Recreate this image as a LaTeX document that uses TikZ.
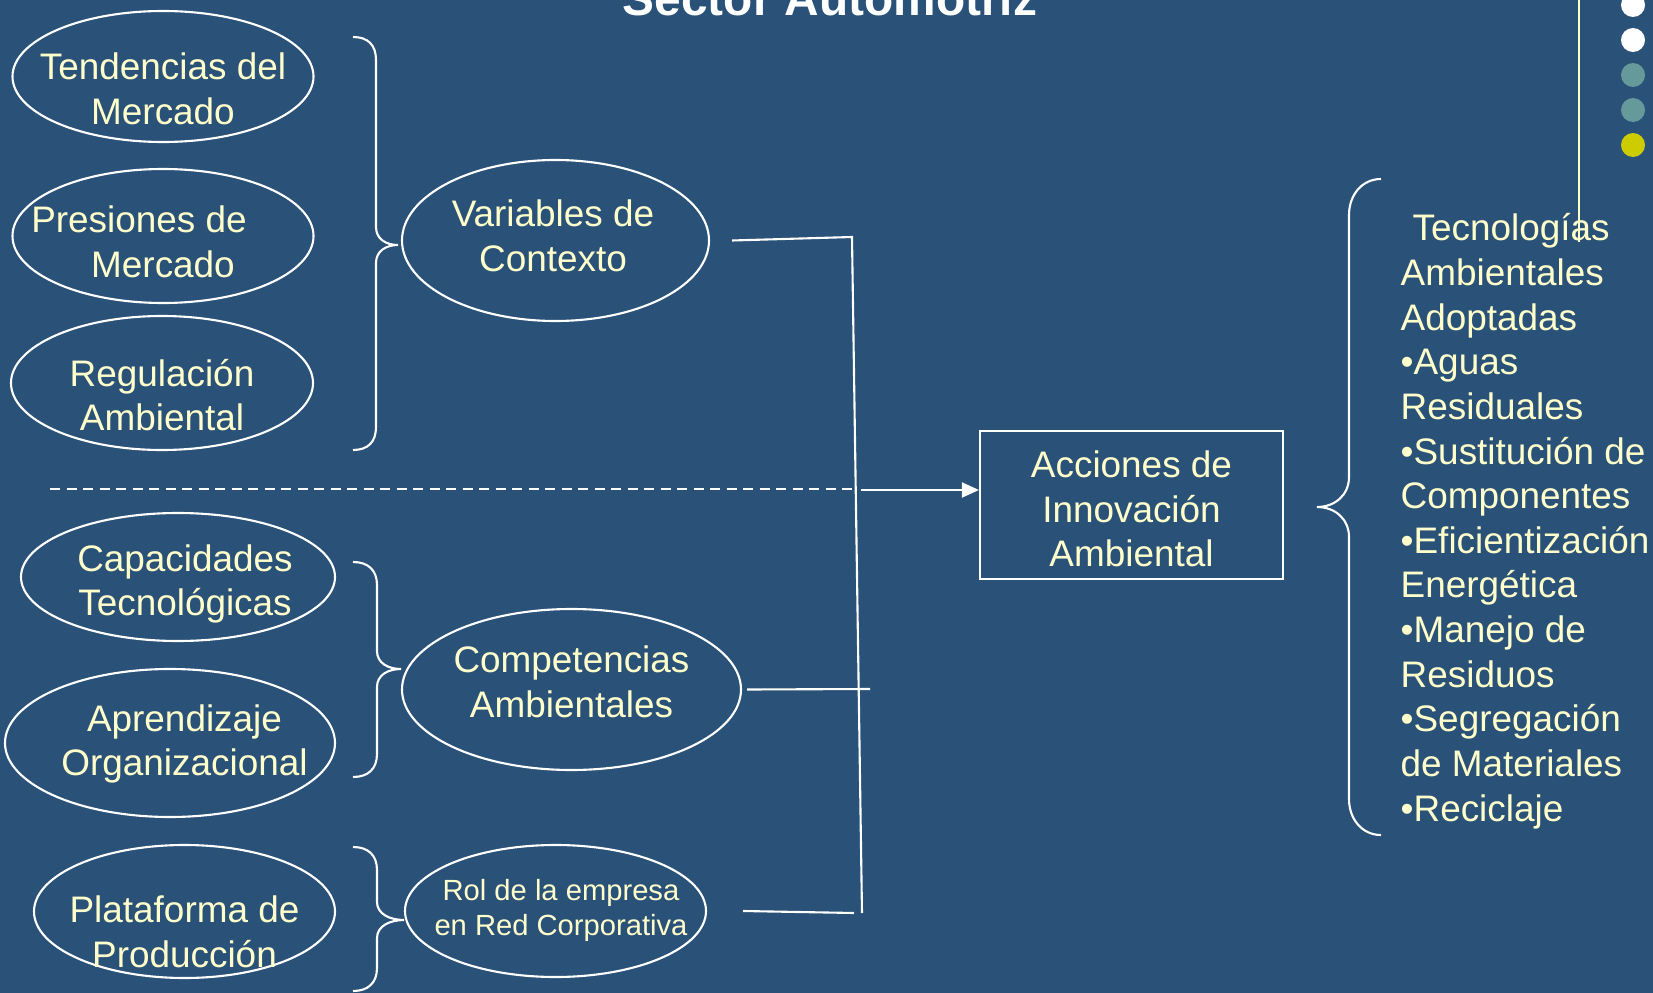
\documentclass[tikz,border=0pt]{standalone}
\usepackage{fontspec}
\setmainfont{Liberation Sans}
\usetikzlibrary{shapes.geometric,arrows.meta}
\definecolor{slidebg}{HTML}{2A5279}
\definecolor{paleyellow}{HTML}{FFFFCC}
\definecolor{dotteal}{HTML}{669999}
\definecolor{dotyellow}{HTML}{CCCC00}
\begin{document}
\begin{tikzpicture}[x=1cm, y=-1cm,
    oval/.style={draw=white, line width=0.6pt, ellipse, inner sep=0pt},
    txt/.style={text=paleyellow, align=center, inner sep=0pt, font=\fontsize{10.5}{12.7}\selectfont},
    link/.style={draw=white, line width=0.6pt}]

    % Slide background
    \useasboundingbox (0,0) rectangle (16.53,9.93);
    \clip (0,0) rectangle (16.53,9.93);
    \fill[slidebg] (0,0) rectangle (16.53,9.93);

    % Title (cut at the top of the slide)
    \node[anchor=base, text=white, inner sep=0pt, font=\fontsize{13.6}{16}\selectfont\bfseries] (title) at (8.30,0.15) {Sector Automotriz};

    % Decoration at the top right
    \draw[paleyellow, line width=0.5pt] (15.79,0) -- (15.79,2.42);
    \fill[white] (16.33,0.05) circle (0.12);
    \fill[white] (16.33,0.40) circle (0.12);
    \fill[dotteal] (16.33,0.75) circle (0.12);
    \fill[dotteal] (16.33,1.10) circle (0.12);
    \fill[dotyellow] (16.33,1.45) circle (0.12);

    % Ellipses of the left column
    \node[oval, minimum width=3.01cm, minimum height=1.31cm] (tend) at (1.63,0.765) {};
    \node[oval, minimum width=3.01cm, minimum height=1.34cm] (pres) at (1.63,2.36) {};
    \node[oval, minimum width=3.02cm, minimum height=1.34cm] (regu) at (1.62,3.83) {};
    \node[oval, minimum width=3.14cm, minimum height=1.28cm] (capa) at (1.78,5.77) {};
    \node[oval, minimum width=3.30cm, minimum height=1.48cm] (apre) at (1.70,7.43) {};
    \node[oval, minimum width=3.01cm, minimum height=1.33cm] (plat) at (1.845,9.115) {};

    % Texts of the left column
    \node[txt] (tend-t) at (1.63,0.885) {Tendencias del\\Mercado};
    \node[txt] (pres-t) at (1.63,2.42) {Presiones de\hspace*{0.48cm}\\Mercado};
    \node[txt] (regu-t) at (1.62,3.95) {Regulación\\Ambiental};
    \node[txt] (capa-t) at (1.85,5.84) {Capacidades\\Tecnológicas};
    \node[txt] (apre-t) at (1.845,7.44) {Aprendizaje\\Organizacional};
    \node[txt] (plat-t) at (1.845,9.315) {Plataforma de\\Producción};

    % Ellipses of the middle column
    \node[oval, minimum width=3.07cm, minimum height=1.61cm] (vari) at (5.555,2.405) {};
    \node[oval, minimum width=3.39cm, minimum height=1.61cm] (comp) at (5.715,6.895) {};
    \node[oval, minimum width=3.01cm, minimum height=1.32cm] (rol) at (5.555,9.11) {};
    \node[txt] (vari-t) at (5.53,2.355) {Variables de\\Contexto};
    \node[txt] (comp-t) at (5.715,6.815) {Competencias\\Ambientales};
    \node[txt, font=\fontsize{8.3}{9.9}\selectfont] (rol-t) at (5.61,9.105) {Rol de la empresa\\en Red Corporativa};

    % Result box
    \node[draw=white, line width=0.6pt, minimum width=3.03cm, minimum height=1.48cm, inner sep=0pt] (box) at (11.315,5.05) {};
    \node[txt] (box-t) at (11.315,5.09) {Acciones de\\Innovación\\Ambiental};

    % Braces
    \draw[link] (3.53,0.37) .. controls (3.68,0.37) and (3.76,0.45) .. (3.76,0.60) -- (3.76,2.27)
        .. controls (3.76,2.39) and (3.86,2.45) .. (3.98,2.45) .. controls (3.86,2.45) and (3.76,2.51) .. (3.76,2.63)
        -- (3.76,4.27) .. controls (3.76,4.42) and (3.68,4.50) .. (3.53,4.50);
    \draw[link] (3.53,5.62) .. controls (3.68,5.62) and (3.77,5.70) .. (3.77,5.85) -- (3.77,6.51)
        .. controls (3.77,6.63) and (3.88,6.69) .. (4.01,6.69) .. controls (3.88,6.69) and (3.77,6.75) .. (3.77,6.87)
        -- (3.77,7.54) .. controls (3.77,7.69) and (3.68,7.77) .. (3.53,7.77);
    \draw[link] (3.53,8.47) .. controls (3.68,8.47) and (3.77,8.55) .. (3.77,8.70) -- (3.77,9.02)
        .. controls (3.77,9.14) and (3.90,9.20) .. (4.04,9.20) .. controls (3.90,9.20) and (3.77,9.26) .. (3.77,9.38)
        -- (3.77,9.68) .. controls (3.77,9.83) and (3.68,9.91) .. (3.53,9.91);
    \draw[link] (13.81,1.79) .. controls (13.62,1.79) and (13.49,1.95) .. (13.49,2.15) -- (13.49,4.77)
        .. controls (13.49,4.95) and (13.35,5.07) .. (13.17,5.07) .. controls (13.35,5.07) and (13.49,5.19) .. (13.49,5.37)
        -- (13.49,7.99) .. controls (13.49,8.19) and (13.62,8.35) .. (13.81,8.35);

    % Connectors to the trunk line
    \coordinate (top) at (8.52,2.37);
    \coordinate (bottom) at (8.62,9.13);
    \coordinate (mid) at (8.70,6.89);
    \coordinate (low) at (8.54,9.13);
    \draw[link] ([xshift=0.22cm]vari.east) -- (top) -- (bottom);
    \draw[link] ([xshift=0.05cm]comp.east) -- (mid);
    \draw[link] ([xshift=0.36cm]rol.east) -- (low);

    % Dashed separator and arrow to the box
    \coordinate (dash-a) at (0.50,4.89);
    \coordinate (dash-b) at (8.56,4.89);
    \coordinate (arrow-a) at (8.61,4.90);
    \draw[link, dash pattern=on 0.10cm off 0.065cm] (dash-a) -- (dash-b);
    \draw[link, -{Triangle[length=0.17cm, width=0.15cm]}] (arrow-a) -- (box.west |- arrow-a);

    % Adopted technologies
    \node[txt, align=left, anchor=north west] (tech) at (14.00,2.13) {\hspace*{0.12cm}Tecnologías\\Ambientales\\Adoptadas\\•Aguas\\Residuales\\•Sustitución de\\Componentes\\•Eficientización\\Energética\\•Manejo de\\Residuos\\•Segregación\\de Materiales\\•Reciclaje};
\end{tikzpicture}
\end{document}
